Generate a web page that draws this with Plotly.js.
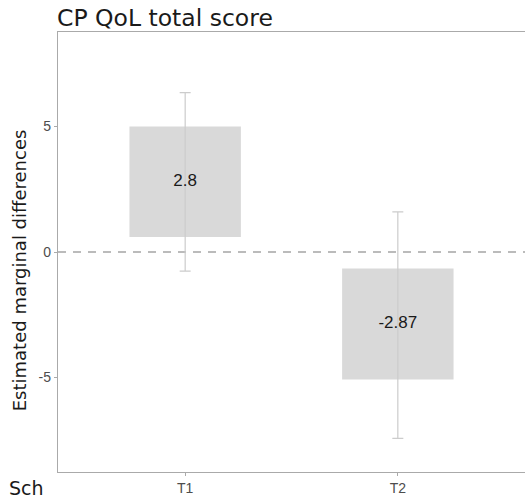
<!DOCTYPE html>
<html>
<head>
<meta charset="utf-8">
<script src="https://cdn.plot.ly/plotly-3.0.1.min.js"></script>
<style>html,body{margin:0;padding:0;background:#fff;}#chart{width:525px;height:501px;}</style>
</head>
<body>
<div id="chart"></div>
<script>
const categories = ["T1", "T2"];
const estimates = [2.8, -2.87];
const estimateLabels = ["2.8", "-2.87"];
const boxLow = [0.6, -5.08];
const boxHigh = [5.0, -0.66];
const ciLow = [-0.76, -7.42];
const ciHigh = [6.35, 1.60];
const yTicks = [-5, 0, 5];
const yTickLabels = ["-5", "0", "5"];

const boxTrace = {
  type: "bar",
  x: categories,
  base: boxLow,
  y: boxHigh.map((h, i) => h - boxLow[i]),
  width: 0.524,
  marker: { color: "#d9d9d9", line: { width: 0 } },
  hoverinfo: "skip",
  showlegend: false
};

const ciTrace = {
  type: "scatter",
  mode: "markers",
  x: categories,
  y: estimates,
  marker: { size: 1, opacity: 0 },
  error_y: {
    type: "data",
    symmetric: false,
    array: ciHigh.map((h, i) => h - estimates[i]),
    arrayminus: estimates.map((e, i) => e - ciLow[i]),
    color: "#cccccc",
    thickness: 1.2,
    width: 5.5
  },
  hoverinfo: "skip",
  showlegend: false
};

const labelTrace = {
  type: "scatter",
  mode: "text",
  x: categories,
  y: estimates,
  text: estimateLabels,
  textposition: "middle center",
  textfont: { family: "Liberation Sans, Arial, sans-serif", size: 17, color: "#1a1a1a" },
  hoverinfo: "skip",
  showlegend: false
};

const layout = {
  width: 525,
  height: 501,
  margin: { l: 57.5, r: 0, t: 32, b: 28.5 },
  paper_bgcolor: "#ffffff",
  plot_bgcolor: "#ffffff",
  showlegend: false,
  title: {
    text: "CP QoL total score",
    font: { family: "DejaVu Sans, sans-serif", size: 23.5, color: "#1a1a1a" },
    x: 57 / 525, xanchor: "left", xref: "container",
    y: 1 - 17.5 / 501, yanchor: "middle", yref: "container"
  },
  xaxis: {
    type: "category",
    range: [-0.598, 1.598],
    showline: true, linecolor: "#aaaaaa", linewidth: 1.2, mirror: true,
    showgrid: false, zeroline: false,
    ticks: "outside", ticklen: 3, tickcolor: "#aaaaaa", tickwidth: 1,
    tickfont: { family: "Liberation Sans, Arial, sans-serif", size: 14, color: "#4d4d4d" }
  },
  yaxis: {
    range: [-8.76, 8.76],
    tickvals: yTicks, ticktext: yTickLabels,
    showline: true, linecolor: "#aaaaaa", linewidth: 1.2, mirror: false,
    showgrid: false, zeroline: false,
    ticks: "outside", ticklen: 3, tickcolor: "#aaaaaa", tickwidth: 1,
    tickfont: { family: "Liberation Sans, Arial, sans-serif", size: 14, color: "#4d4d4d" }
  },
  shapes: [
    { type: "line", xref: "paper", yref: "y", x0: 0, x1: 1, y0: 0, y1: 0,
      line: { color: "#bbbbbb", width: 1.8, dash: "8px,7px" }, layer: "below" },
    { type: "rect", xref: "paper", yref: "paper", x0: -21.5 / 467.5, x1: -0.001, y0: -0.1, y1: -0.02,
      fillcolor: "#ffffff", line: { width: 0 }, layer: "above" }
  ],
  annotations: [
    { text: "Estimated marginal differences", xref: "paper", yref: "paper",
      x: -39 / 467.5, y: (472.5 - 270.5) / 440.5, xanchor: "center", yanchor: "middle",
      textangle: -90, showarrow: false,
      font: { family: "DejaVu Sans, sans-serif", size: 18, color: "#1a1a1a" } },
    { text: "Sch", xref: "paper", yref: "paper",
      x: -51 / 467.5, y: -16 / 440.5, xanchor: "left", yanchor: "middle",
      showarrow: false,
      font: { family: "DejaVu Sans, sans-serif", size: 19, color: "#1a1a1a" } }
  ]
};

Plotly.newPlot("chart", [boxTrace, ciTrace, labelTrace], layout, { displayModeBar: false, staticPlot: true });
</script>
</body>
</html>
